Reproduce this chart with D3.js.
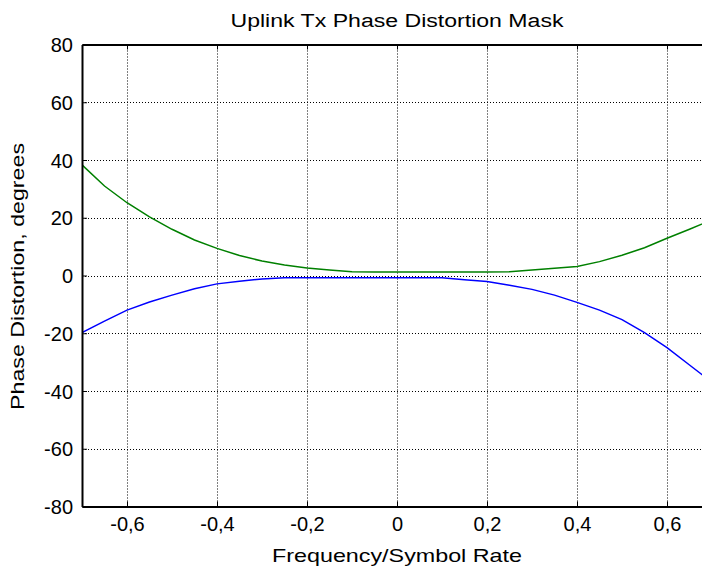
<!DOCTYPE html>
<html>
<head>
<meta charset="utf-8">
<script src="https://cdn.jsdelivr.net/npm/d3@7"></script>
<style>
  body { margin: 0; background: #fff; }
  text { font-family: "Liberation Sans", Arial, sans-serif; fill: #000; }
</style>
</head>
<body>
<svg id="chart" width="702" height="574"></svg>
<script>
// frequency / symbol rate sample points
const freq = [-0.70, -0.65, -0.60, -0.55, -0.50, -0.45, -0.40, -0.35, -0.30, -0.25,
              -0.20, -0.15, -0.10, -0.05, 0.00, 0.05, 0.10, 0.15, 0.20, 0.25,
              0.30, 0.35, 0.40, 0.45, 0.50, 0.55, 0.60, 0.65, 0.70];
// upper mask (green), degrees
const upperMask = [38.3, 31.0, 25.2, 20.3, 16.0, 12.3, 9.4, 6.9, 5.0, 3.6,
                   2.6, 1.9, 1.3, 1.2, 1.2, 1.2, 1.2, 1.2, 1.2, 1.3,
                   1.9, 2.5, 3.1, 4.8, 7.0, 9.6, 12.9, 16.0, 19.3];
// lower mask (blue), degrees
const lowerMask = [-19.8, -15.8, -12.0, -9.2, -6.8, -4.6, -2.9, -2.0, -1.2, -0.75,
                   -0.75, -0.75, -0.75, -0.75, -0.75, -0.75, -0.75, -1.45, -2.1, -3.4,
                   -4.8, -6.8, -9.3, -12.0, -15.3, -19.8, -25.0, -31.0, -37.0];
const xTicks = [-0.6, -0.4, -0.2, 0, 0.2, 0.4, 0.6];
const yTicks = [-80, -60, -40, -20, 0, 20, 40, 60, 80];

const plot = {left: 82, right: 712, top: 44.5, bottom: 506.5};

const svg = d3.select('#chart');

const x = d3.scaleLinear().domain([-0.7, 0.7]).range([plot.left, plot.right]);
const y = d3.scaleLinear().domain([-80, 80]).range([plot.bottom, plot.top]);

svg.append('clipPath').attr('id', 'clip')
  .append('rect')
    .attr('x', plot.left).attr('y', plot.top)
    .attr('width', plot.right - plot.left).attr('height', plot.bottom - plot.top);

// grid
const grid = svg.append('g').attr('class', 'grid')
    .attr('stroke', '#000').attr('stroke-width', 1).attr('stroke-dasharray', '1,2');
grid.selectAll('line.gx').data(xTicks).join('line')
    .attr('x1', d => Math.round(x(d)) + 0.5).attr('x2', d => Math.round(x(d)) + 0.5)
    .attr('y1', plot.top).attr('y2', plot.bottom);
grid.selectAll('line.gy').data(yTicks.slice(1, -1)).join('line')
    .attr('y1', d => Math.round(y(d)) + 0.5).attr('y2', d => Math.round(y(d)) + 0.5)
    .attr('x1', plot.left).attr('x2', plot.right);

// curves
const line = d3.line()
    .x((d, i) => x(freq[i]))
    .y(d => y(d));
const curves = svg.append('g').attr('clip-path', 'url(#clip)');
curves.append('path').datum(lowerMask)
    .attr('fill', 'none').attr('stroke', '#0000ff').attr('stroke-width', 1.5)
    .attr('d', line);
curves.append('path').datum(upperMask)
    .attr('fill', 'none').attr('stroke', '#008000').attr('stroke-width', 1.5)
    .attr('d', line);

// axes
const fmtX = d => d === 0 ? '0' : String(d).replace('.', ',');

const xAxis = svg.append('g')
    .attr('transform', `translate(0,${plot.bottom})`)
    .call(d3.axisBottom(x).tickValues(xTicks).tickFormat(fmtX).tickSizeInner(-5).tickSizeOuter(0));
xAxis.selectAll('text').attr('dy', null).attr('y', 24).attr('font-size', 20);

const xTop = svg.append('g')
    .attr('transform', `translate(0,${plot.top})`)
    .call(d3.axisTop(x).tickValues(xTicks).tickFormat('').tickSizeInner(-5).tickSizeOuter(0));

const yAxis = svg.append('g')
    .attr('transform', `translate(${plot.left},0)`)
    .call(d3.axisLeft(y).tickValues(yTicks).tickFormat(d => String(d)).tickSizeInner(-5).tickSizeOuter(0).tickPadding(9));
yAxis.selectAll('text').attr('font-size', 20).attr('dy', '0.36em');

[xAxis, xTop, yAxis].forEach(g => {
  g.select('.domain').attr('stroke', '#000').attr('stroke-width', 2);
  g.selectAll('.tick line').attr('stroke', '#000').attr('stroke-width', 1);
  g.attr('font-family', null);
});

// labels
svg.append('text')
    .attr('x', x(0)).attr('y', 26.7)
    .attr('text-anchor', 'middle')
    .attr('font-size', 18)
    .attr('textLength', 333).attr('lengthAdjust', 'spacingAndGlyphs')
    .text('Uplink Tx Phase Distortion Mask');

svg.append('text')
    .attr('x', x(0)).attr('y', 561.7)
    .attr('text-anchor', 'middle')
    .attr('font-size', 18.5)
    .attr('textLength', 250).attr('lengthAdjust', 'spacingAndGlyphs')
    .text('Frequency/Symbol Rate');

svg.append('text')
    .attr('transform', `translate(23.5,${(plot.top + plot.bottom) / 2 + 1}) rotate(-90)`)
    .attr('text-anchor', 'middle')
    .attr('font-size', 18.5)
    .attr('textLength', 267).attr('lengthAdjust', 'spacingAndGlyphs')
    .text('Phase Distortion, degrees');
</script>
</body>
</html>
